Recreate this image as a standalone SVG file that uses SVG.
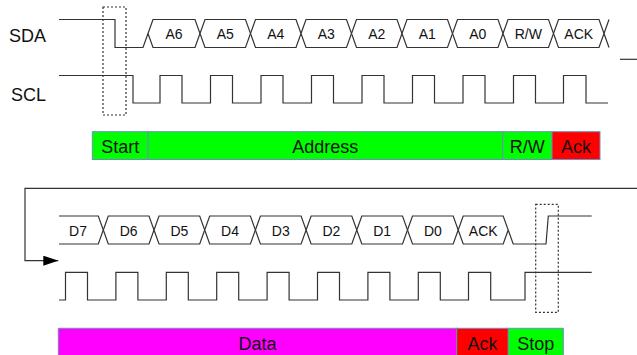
<svg xmlns="http://www.w3.org/2000/svg" width="637" height="355" viewBox="0 0 637 355">
<style>
.w{fill:none;stroke:#333;stroke-width:1.2}
.h{fill:#fff;stroke:#333;stroke-width:1.2}
.d{fill:none;stroke:#333;stroke-width:1.2;stroke-dasharray:2 2}
.t{font-family:"Liberation Sans",Arial,sans-serif;fill:#111;text-anchor:middle}
.hl{font-size:14px}
.bl{font-size:18px}
.sl{font-size:18px;font-family:"Liberation Sans",Arial,sans-serif;fill:#111}
.c{stroke:#6c8ebf;stroke-width:1}
</style>
<defs>
<marker id="arr" markerUnits="userSpaceOnUse" viewBox="0 0 15 10" refX="15" refY="5" markerWidth="15" markerHeight="10" orient="auto">
<path d="M0,0 L15,5 L0,10 Z" fill="#000"/>
</marker>
</defs>
<rect width="637" height="355" fill="#fff"/>

<g id="labels">
<text class="sl" x="9" y="42">SDA</text>
<text class="sl" x="11" y="101">SCL</text>
</g>

<g id="sda1">
<path class="w" d="M59 19.5 H115 V47.5 H143 L148 33.5"/>
<path class="w" d="M604 33.5 L609 19.5 M604 33.5 L609 47.5"/>
<path class="w" d="M620 59.3 H637"/>
</g>
<g id="bus1">
<g id="hA6"><polygon class="h" points="148,33.5 153,19.5 195,19.5 200,33.5 195,47.5 153,47.5"/><text class="t hl" x="174" y="38.5">A6</text></g>
<g id="hA5"><polygon class="h" points="200,33.5 205,19.5 245.5,19.5 250.5,33.5 245.5,47.5 205,47.5"/><text class="t hl" x="225.25" y="38.5">A5</text></g>
<g id="hA4"><polygon class="h" points="250.5,33.5 255.5,19.5 296,19.5 301,33.5 296,47.5 255.5,47.5"/><text class="t hl" x="275.75" y="38.5">A4</text></g>
<g id="hA3"><polygon class="h" points="301,33.5 306,19.5 346.5,19.5 351.5,33.5 346.5,47.5 306,47.5"/><text class="t hl" x="326.25" y="38.5">A3</text></g>
<g id="hA2"><polygon class="h" points="351.5,33.5 356.5,19.5 397,19.5 402,33.5 397,47.5 356.5,47.5"/><text class="t hl" x="376.75" y="38.5">A2</text></g>
<g id="hA1"><polygon class="h" points="402,33.5 407,19.5 447.5,19.5 452.5,33.5 447.5,47.5 407,47.5"/><text class="t hl" x="427.25" y="38.5">A1</text></g>
<g id="hA0"><polygon class="h" points="452.5,33.5 457.5,19.5 498,19.5 503,33.5 498,47.5 457.5,47.5"/><text class="t hl" x="477.75" y="38.5">A0</text></g>
<g id="hRW"><polygon class="h" points="503,33.5 508,19.5 548.5,19.5 553.5,33.5 548.5,47.5 508,47.5"/><text class="t hl" x="528.25" y="38.5">R/W</text></g>
<g id="hACK1"><polygon class="h" points="553.5,33.5 558.5,19.5 599,19.5 604,33.5 599,47.5 558.5,47.5"/><text class="t hl" x="578.75" y="38.5">ACK</text></g>
</g>

<g id="scl1">
<path class="w" d="M59 75.5 H133 V103 H160 V75.5 H182 V103 H210.5 V75.5 H232.5 V103 H261 V75.5 H283 V103 H311.5 V75.5 H333.5 V103 H362 V75.5 H384 V103 H412.5 V75.5 H434.5 V103 H463 V75.5 H485 V103 H513.5 V75.5 H535.5 V103 H563.5 V75.5 H586 V103 H608"/>
</g>
<rect id="start-box" class="d" x="103" y="7" width="23" height="108"/>

<g id="bar1">
<g id="b-start"><rect class="c" x="92.3" y="131.7" width="55.7" height="27.8" fill="#00ff00"/><text class="t bl" x="120.2" y="153">Start</text></g>
<g id="b-addr"><rect class="c" x="148" y="131.7" width="354.7" height="27.8" fill="#00ff00"/><text class="t bl" x="325.3" y="153">Address</text></g>
<g id="b-rw"><rect class="c" x="502.7" y="131.7" width="49.3" height="27.8" fill="#00ff00"/><text class="t bl" x="527.3" y="153">R/W</text></g>
<g id="b-ack1"><rect class="c" x="552" y="131.7" width="48" height="27.8" fill="#ff0000"/><text class="t bl" x="576" y="153">Ack</text></g>
</g>

<g id="connectors">
<path class="w" d="M637 188.3 H25 V260.7 H58.3" marker-end="url(#arr)"/>
</g>

<g id="sda2">
<path class="w" d="M59 216 H98.3 L103.3 230 L98.3 244 H59"/>
<path class="w" d="M508.2 230 L513.2 244 H546 L548.3 216 H591.7"/>
</g>
<g id="bus2">
<text class="t hl" x="78" y="235.5">D7</text>
<g id="hD6"><polygon class="h" points="103.3,230 108.3,216 149,216 154,230 149,244 108.3,244"/><text class="t hl" x="128.65" y="235.5">D6</text></g>
<g id="hD5"><polygon class="h" points="154,230 159,216 199.7,216 204.7,230 199.7,244 159,244"/><text class="t hl" x="179.35" y="235.5">D5</text></g>
<g id="hD4"><polygon class="h" points="204.7,230 209.7,216 250.4,216 255.4,230 250.4,244 209.7,244"/><text class="t hl" x="230.05" y="235.5">D4</text></g>
<g id="hD3"><polygon class="h" points="255.4,230 260.4,216 301.1,216 306.1,230 301.1,244 260.4,244"/><text class="t hl" x="280.75" y="235.5">D3</text></g>
<g id="hD2"><polygon class="h" points="306.1,230 311.1,216 351.8,216 356.8,230 351.8,244 311.1,244"/><text class="t hl" x="331.45" y="235.5">D2</text></g>
<g id="hD1"><polygon class="h" points="356.8,230 361.8,216 402.5,216 407.5,230 402.5,244 361.8,244"/><text class="t hl" x="382.15" y="235.5">D1</text></g>
<g id="hD0"><polygon class="h" points="407.5,230 412.5,216 453.2,216 458.2,230 453.2,244 412.5,244"/><text class="t hl" x="432.85" y="235.5">D0</text></g>
<g id="hACK2"><polygon class="h" points="458.2,230 463.2,216 503.2,216 508.2,230 503.2,244 463.2,244"/><text class="t hl" x="483.2" y="235.5">ACK</text></g>
</g>

<g id="scl2">
<path class="w" d="M59 300 H65.5 V272.3 H87.5 V300 H115.9 V272.3 H137.9 V300 H166.3 V272.3 H188.3 V300 H216.7 V272.3 H238.7 V300 H267.1 V272.3 H289.1 V300 H317.5 V272.3 H339.5 V300 H367.9 V272.3 H389.9 V300 H418.3 V272.3 H440.3 V300 H468.5 V272.3 H490.7 V300 H525 V272.3 H591.7"/>
</g>
<rect id="stop-box" class="d" x="535.7" y="204.3" width="22.6" height="108"/>

<g id="bar2">
<g id="b-data"><rect class="c" x="58.3" y="328.3" width="398.4" height="30" fill="#ff00ff"/><text class="t bl" x="257.5" y="350">Data</text></g>
<g id="b-ack2"><rect class="c" x="456.7" y="328.3" width="51.6" height="30" fill="#ff0000"/><text class="t bl" x="482.5" y="350">Ack</text></g>
<g id="b-stop"><rect class="c" x="508.3" y="328.3" width="55" height="30" fill="#00ff00"/><text class="t bl" x="535.8" y="350">Stop</text></g>
</g>
</svg>
